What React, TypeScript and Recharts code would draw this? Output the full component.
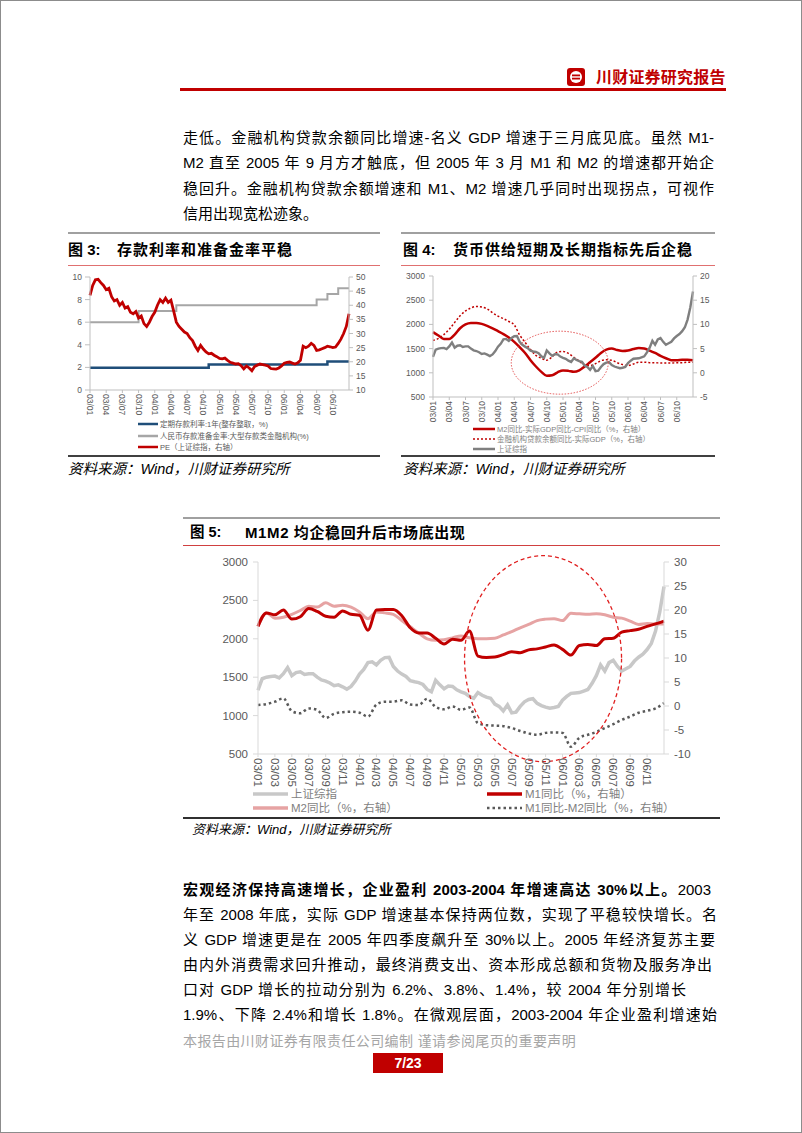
import React from 'react';
import { LineChart, Line, XAxis, YAxis, ReferenceDot } from 'recharts';

// x values are months counted from 2003/01; half-month steps for the daily-looking series
const quarterLabels = ['03/01', '03/04', '03/07', '03/10', '04/01', '04/04', '04/07', '04/10', '05/01', '05/04', '05/07', '05/10', '06/01', '06/04', '06/07', '06/10'];
const bimonthLabels = ['03/01', '03/03', '03/05', '03/07', '03/09', '03/11', '04/01', '04/03', '04/05', '04/07', '04/09', '04/11', '05/01', '05/03', '05/05', '05/07', '05/09', '05/11', '06/01', '06/03', '06/05', '06/07', '06/09', '06/11'];

// fig 3 (monthly)
const depositRate = [
  1.98, 1.98, 1.98, 1.98, 1.98, 1.98, 1.98, 1.98, 1.98, 1.98, 1.98, 1.98, 1.98, 1.98, 1.98, 1.98, 1.98, 1.98, 1.98, 1.98, 1.98, 1.98,
  2.25, 2.25, 2.25, 2.25, 2.25, 2.25, 2.25, 2.25, 2.25, 2.25, 2.25, 2.25, 2.25, 2.25, 2.25, 2.25, 2.25, 2.25, 2.25, 2.25, 2.25, 2.25,
  2.52, 2.52, 2.52, 2.52, 2.52,
];
const reserveRatio = [
  6, 6, 6, 6, 6, 6, 6, 6, 6,
  7, 7, 7, 7, 7, 7, 7,
  7.5, 7.5, 7.5, 7.5, 7.5, 7.5, 7.5, 7.5, 7.5, 7.5, 7.5, 7.5, 7.5, 7.5, 7.5, 7.5, 7.5, 7.5, 7.5, 7.5, 7.5, 7.5, 7.5, 7.5, 7.5, 7.5,
  8, 8, 8.5, 8.5, 9, 9, 9,
];
// fig 3 PE (half-month)
const pe = [
  43.5, 47, 49, 49.2, 48, 47, 45.5, 46, 43, 41.5,
  42, 40, 41, 39, 39.5, 37.5, 37, 37.8, 35.5, 36.2,
  33.5, 32.5, 34, 36, 37.5, 40, 42, 41, 42.5, 41,
  41.8, 38, 34, 32.5, 31.5, 30.5, 30, 28.5, 27.5, 25.5,
  24, 25.8, 24.5, 23.5, 22.8, 23, 22.3, 21.8, 21.2, 21,
  21.3, 20.5, 19.8, 19.5, 19.2, 19.3, 18.6, 17.5, 18.5, 17.8,
  16.8, 18.3, 18.8, 19.2, 19, 18.8, 18.5, 17.6, 17.5, 17.4,
  17.8, 18.5, 19.5, 19.8, 19.9, 19.5, 19.2, 19.6, 20.5, 25.5,
  25, 25.5, 26.5, 25.8, 24, 24.2, 24.6, 25, 25.5, 25.3,
  25, 25.2, 26.5, 28, 30, 32.5, 37,
];
// Shanghai composite (half-month), used in fig 4 and fig 5
const sse = [
  1330, 1480, 1500, 1510, 1515, 1490, 1545, 1625, 1520, 1560,
  1570, 1535, 1545, 1545, 1500, 1465, 1450, 1425, 1390, 1400,
  1375, 1345, 1380, 1450, 1540, 1600, 1690, 1700, 1660, 1720,
  1755, 1760, 1640, 1580, 1540, 1510, 1455, 1440, 1430, 1405,
  1340, 1310, 1460, 1400, 1350, 1385, 1380, 1335, 1310, 1290,
  1250, 1225, 1300, 1265, 1240, 1225, 1150, 1120, 1060, 1140,
  1035, 1045, 1120, 1180, 1210, 1220, 1160, 1130, 1110, 1095,
  1105, 1120, 1200, 1250, 1290, 1295, 1300, 1320, 1340, 1420,
  1520, 1660, 1580, 1690, 1720, 1640, 1580, 1610, 1640, 1710,
  1760, 1800, 1860, 1940, 2100, 2350, 2680,
];
// fig 4 (monthly, right axis)
const m2Gap = [8.4, 7.7, 7.0, 7.0, 7.9, 9.2, 10.0, 10.3, 10.3, 10.1, 9.7, 9.2, 8.6, 8.0, 7.3, 6.4, 5.3, 4.1, 2.6, 1.3, 0.2, -0.6, -0.5, 0.1, 0.5, 0.4, 0.2, 0.5, 1.3, 2.2, 3.1, 4.1, 4.8, 5.0, 4.7, 4.5, 4.6, 4.9, 5.1, 5.0, 4.6, 4.1, 3.5, 3.0, 2.6, 2.6, 2.7, 2.7, 2.6];
const loanGap = [6.7, 7.1, 7.9, 9.0, 10.4, 11.8, 12.8, 13.4, 13.7, 13.6, 13.2, 12.4, 11.7, 11.2, 10.6, 9.9, 7.8, 6.3, 4.8, 3.6, 3.0, 2.6, 3.3, 4.3, 4.4, 4.0, 3.2, 2.4, 1.6, 1.5, 1.9, 2.5, 2.7, 2.6, 2.1, 1.7, 1.5, 1.8, 2.2, 2.2, 2.1, 2.1, 2.0, 2.0, 2.0, 2.1, 2.1, 2.2, 2.2];
// fig 5 (monthly, right axis)
const m1 = [16.6, 19.4, 19.0, 20.0, 18.1, 18.6, 20.3, 19.7, 18.7, 18.5, 19.8, 19.1, 18.9, 15.8, 20.0, 20.1, 20.1, 18.8, 16.3, 15.2, 15.2, 14.1, 12.9, 13.9, 13.7, 15.6, 10.4, 10.1, 10.2, 10.7, 11.3, 11.1, 11.7, 11.9, 12.3, 12.7, 11.8, 10.6, 12.6, 12.8, 12.6, 14.0, 14.1, 15.4, 15.7, 16.0, 16.6, 17.1, 17.7];
const m2 = [16.6, 19.4, 18.3, 18.5, 19.1, 19.9, 20.8, 20.6, 21.5, 20.8, 21.0, 20.6, 19.6, 18.2, 19.6, 19.4, 19.1, 17.8, 16.5, 15.2, 14.0, 13.7, 13.8, 14.2, 14.6, 14.2, 14.0, 14.0, 14.1, 14.8, 15.5, 16.3, 17.0, 17.8, 18.1, 18.2, 17.8, 19.3, 19.2, 19.1, 19.2, 19.0, 18.5, 18.3, 17.7, 17.0, 17.2, 17.1, 17.1];
const m1m2 = [0.2, 0.4, 0.9, 1.6, -1.1, -1.5, -0.5, -0.8, -2.5, -1.6, -1.3, -1.2, -1.4, -2.2, 0.3, 0.9, 0.9, 1.2, 0.3, 0.2, 1.5, -0.2, -0.7, -0.1, -0.8, -0.3, -3.6, -4.0, -4.1, -4.2, -4.6, -5.2, -5.7, -6.0, -5.6, -5.5, -5.6, -8.5, -6.6, -6.0, -5.4, -4.6, -3.8, -2.9, -2.2, -1.4, -1.0, -0.5, 0.6];

const monthly = (arr: number[]) => arr.map((v, i) => ({ m: i, v }));
const halfMonthly = (arr: number[]) => arr.map((v, i) => ({ m: i / 2, v }));

const quarterTicks = quarterLabels.map((_, i) => i * 3);
const bimonthTicks = bimonthLabels.map((_, i) => i * 2);

const LAT = '"Liberation Sans", Arial, "Noto Sans CJK SC", sans-serif';
const RED = '#C00000';

const RotTick = (props: any) => {
  const { x, y, payload, labels, step, size, dir } = props;
  const label = labels[Math.round(payload.value / step)];
  return (
    <g transform={`translate(${x},${y})`}>
      <text
        transform={`rotate(${dir})`}
        textAnchor={dir > 0 ? 'start' : 'end'}
        dominantBaseline="central"
        fontSize={size}
        fill="#595959"
        fontFamily={LAT}
      >
        {label}
      </text>
    </g>
  );
};

const Txt = ({ x, cy, size, children, style }: any) => {
  const lh = Math.round(size * 1.4);
  return (
    <div style={{ position: 'absolute', left: x, top: cy - lh / 2, fontSize: size, lineHeight: `${lh}px`, whiteSpace: 'nowrap', ...style }}>
      {children}
    </div>
  );
};

const JLine = ({ x, cy, w, children, last }: any) => (
  <div
    style={{
      position: 'absolute', left: x, top: cy - 12, width: w, height: 24, fontSize: 15, lineHeight: '24px',
      textAlign: 'justify', textAlignLast: last ? 'left' : 'justify', color: '#000',
    }}
  >
    {children}
  </div>
);

const Swatch = ({ w, color, sw, dash }: any) => (
  <svg width={w} height={8} style={{ display: 'block' }}>
    <line x1={0} y1={4} x2={w} y2={4} stroke={color} strokeWidth={sw} strokeDasharray={dash} />
  </svg>
);

const LegendRow = ({ x, cy, w, tx, size, color, sw, dash, label, textColor }: any) => (
  <>
    <div style={{ position: 'absolute', left: x, top: cy - 4 }}>
      <Swatch w={w} color={color} sw={sw} dash={dash} />
    </div>
    <Txt x={tx} cy={cy} size={size} style={{ color: textColor }}>{label}</Txt>
  </>
);

const HLine = ({ x, y, w, h, color }: any) => (
  <div style={{ position: 'absolute', left: x, top: y - h / 2, width: w, height: h, background: color }} />
);

const Fig3 = () => (
  <div style={{ position: 'absolute', left: 60, top: 270 }}>
    <LineChart width={320} height={150} margin={{ top: 7, right: 0, bottom: 0, left: 0 }}>
      <XAxis
        type="number" dataKey="m" domain={[0, 48]} ticks={quarterTicks} interval={0} height={30}
        axisLine={{ stroke: '#BFBFBF' }} tickLine={{ stroke: '#BFBFBF' }} tickSize={3} tickMargin={1}
        tick={(p: any) => <RotTick {...p} labels={quarterLabels} step={3} size={8.5} dir={90} />}
      />
      <YAxis
        yAxisId="l" domain={[0, 10]} ticks={[0, 2, 4, 6, 8, 10]} width={30} interval={0}
        axisLine={{ stroke: '#BFBFBF' }} tickLine={{ stroke: '#BFBFBF' }} tickSize={5} tickMargin={3}
        tick={{ fontSize: 8.5, fill: '#595959', fontFamily: LAT }}
      />
      <YAxis
        yAxisId="r" orientation="right" domain={[10, 50]} ticks={[10, 15, 20, 25, 30, 35, 40, 45, 50]} width={31} interval={0}
        axisLine={{ stroke: '#BFBFBF' }} tickLine={{ stroke: '#BFBFBF' }} tickSize={4} tickMargin={3}
        tick={{ fontSize: 8.5, fill: '#595959', fontFamily: LAT }}
      />
      <Line yAxisId="l" data={monthly(depositRate)} dataKey="v" type="stepAfter" stroke="#1F4E79" strokeWidth={2.5} dot={false} isAnimationActive={false} />
      <Line yAxisId="l" data={monthly(reserveRatio)} dataKey="v" type="stepAfter" stroke="#A6A6A6" strokeWidth={2} dot={false} isAnimationActive={false} />
      <Line yAxisId="r" data={halfMonthly(pe)} dataKey="v" type="linear" stroke={RED} strokeWidth={2.8} dot={false} isAnimationActive={false} />
    </LineChart>
  </div>
);

const Fig4 = () => (
  <div style={{ position: 'absolute', left: 400, top: 268 }}>
    <LineChart width={320} height={159} margin={{ top: 8, right: 0, bottom: 0, left: 0 }}>
      <XAxis
        type="number" dataKey="m" domain={[0, 48]} ticks={quarterTicks} interval={0} height={30}
        axisLine={{ stroke: '#BFBFBF' }} tickLine={{ stroke: '#BFBFBF' }} tickSize={3} tickMargin={1}
        tick={(p: any) => <RotTick {...p} labels={quarterLabels} step={3} size={8.5} dir={-90} />}
      />
      <YAxis
        yAxisId="l" domain={[500, 3000]} ticks={[500, 1000, 1500, 2000, 2500, 3000]} width={33} interval={0}
        axisLine={{ stroke: '#BFBFBF' }} tickLine={{ stroke: '#BFBFBF' }} tickSize={4} tickMargin={4}
        tick={{ fontSize: 8.5, fill: '#595959', fontFamily: LAT }}
      />
      <YAxis
        yAxisId="r" orientation="right" domain={[-5, 20]} ticks={[-5, 0, 5, 10, 15, 20]} width={27} interval={0}
        axisLine={{ stroke: '#BFBFBF' }} tickLine={{ stroke: '#BFBFBF' }} tickSize={4} tickMargin={3}
        tick={{ fontSize: 8.5, fill: '#595959', fontFamily: LAT }}
      />
      <Line yAxisId="r" data={monthly(m2Gap)} dataKey="v" type="monotone" stroke={RED} strokeWidth={2.5} dot={false} isAnimationActive={false} />
      <Line yAxisId="r" data={monthly(loanGap)} dataKey="v" type="monotone" stroke={RED} strokeWidth={1.5} strokeDasharray="2 2" dot={false} isAnimationActive={false} />
      <Line yAxisId="l" data={halfMonthly(sse)} dataKey="v" type="linear" stroke="#7F7F7F" strokeWidth={2.4} dot={false} isAnimationActive={false} />
      <ReferenceDot
        yAxisId="l" x={23.4} y={1209} ifOverflow="visible"
        shape={(p: any) => <ellipse cx={p.cx} cy={p.cy} rx={48.5} ry={31.5} fill="none" stroke="#E04040" strokeWidth={0.9} strokeDasharray="1.5 1.5" />}
      />
    </LineChart>
  </div>
);

const Fig5 = () => (
  <div style={{ position: 'absolute', left: 200, top: 552 }}>
    <LineChart width={504} height={238} margin={{ top: 10, right: 0, bottom: 0, left: 0 }}>
      <XAxis
        type="number" dataKey="m" domain={[0, 48]} ticks={bimonthTicks} interval={0} height={36}
        axisLine={{ stroke: '#D9D9D9' }} tickLine={{ stroke: '#D9D9D9' }} tickSize={3} tickMargin={1}
        tick={(p: any) => <RotTick {...p} labels={bimonthLabels} step={2} size={11.5} dir={90} />}
      />
      <YAxis
        yAxisId="l" domain={[500, 3000]} ticks={[500, 1000, 1500, 2000, 2500, 3000]} width={58} interval={0}
        axisLine={{ stroke: '#D9D9D9' }} tickLine={{ stroke: '#D9D9D9' }} tickSize={5} tickMargin={5}
        tick={{ fontSize: 11.5, fill: '#595959', fontFamily: LAT }}
      />
      <YAxis
        yAxisId="r" orientation="right" domain={[-10, 30]} ticks={[-10, -5, 0, 5, 10, 15, 20, 25, 30]} width={40} interval={0}
        axisLine={{ stroke: '#D9D9D9' }} tickLine={{ stroke: '#D9D9D9' }} tickSize={5} tickMargin={5}
        tick={{ fontSize: 11.5, fill: '#595959', fontFamily: LAT }}
      />
      <Line yAxisId="l" data={halfMonthly(sse)} dataKey="v" type="linear" stroke="#C8C8C8" strokeWidth={3.5} dot={false} isAnimationActive={false} />
      <Line yAxisId="r" data={monthly(m1m2)} dataKey="v" type="monotone" stroke="#595959" strokeWidth={2.5} strokeDasharray="2.5 3" dot={false} isAnimationActive={false} />
      <Line yAxisId="r" data={monthly(m2)} dataKey="v" type="monotone" stroke="#E6A3A3" strokeWidth={3} dot={false} isAnimationActive={false} />
      <Line yAxisId="r" data={monthly(m1)} dataKey="v" type="monotone" stroke={RED} strokeWidth={3} dot={false} isAnimationActive={false} />
      <ReferenceDot
        yAxisId="l" x={33.7} y={1741} ifOverflow="visible"
        shape={(p: any) => <ellipse cx={p.cx} cy={p.cy} rx={78.5} ry={103} fill="none" stroke="#E02020" strokeWidth={1.3} strokeDasharray="4 3" />}
      />
    </LineChart>
  </div>
);

export default function App() {
  return (
    <div style={{ position: 'absolute', left: 0, top: 0, width: 802, height: 1133, background: '#fff', fontFamily: LAT, color: '#000', overflow: 'hidden' }}>
      {/* header */}
      <svg width={18} height={18} style={{ position: 'absolute', left: 567, top: 68 }}>
        <rect x={0} y={0} width={18} height={18} rx={3} fill={RED} />
        <circle cx={9} cy={9} r={6} fill="#fff" />
        <rect x={5} y={6.5} width={8} height={1.8} fill={RED} />
        <rect x={5} y={9.7} width={8} height={1.8} fill={RED} />
      </svg>
      <Txt x={596} cy={78} size={16} style={{ color: RED, fontWeight: 700, letterSpacing: 0.2 }}>川财证券研究报告</Txt>
      <HLine x={180} y={89.5} w={546} h={3} color={RED} />

      {/* top paragraph */}
      <JLine x={183} cy={137.5} w={531}>走低。金融机构贷款余额同比增速-名义 GDP 增速于三月底见底。虽然 M1-</JLine>
      <JLine x={183} cy={163} w={531}>M2 直至 2005 年 9 月方才触底，但 2005 年 3 月 M1 和 M2 的增速都开始企</JLine>
      <JLine x={183} cy={188.5} w={531}>稳回升。金融机构贷款余额增速和 M1、M2 增速几乎同时出现拐点，可视作</JLine>
      <JLine x={183} cy={213.5} w={531} last>信用出现宽松迹象。</JLine>

      {/* fig 3 frame */}
      <HLine x={68} y={233} w={312} h={1.5} color="#A0A0A0" />
      <Txt x={68} cy={249} size={15} style={{ fontWeight: 700 }}>图 3:</Txt>
      <Txt x={117} cy={249} size={15} style={{ fontWeight: 700, letterSpacing: 1 }}>存款利率和准备金率平稳</Txt>
      <HLine x={68} y={265} w={312} h={1} color="#E07070" />
      <Fig3 />
      <LegendRow x={138} cy={424} w={20} tx={160} size={7.5} color="#1F4E79" sw={2.5} label="定期存款利率:1年(整存整取，%)" textColor="#595959" />
      <LegendRow x={138} cy={436} w={20} tx={160} size={7.5} color="#A6A6A6" sw={2.5} label="人民币存款准备金率:大型存款类金融机构(%)" textColor="#595959" />
      <LegendRow x={138} cy={447} w={20} tx={160} size={7.5} color={RED} sw={2.5} label="PE（上证综指，右轴）" textColor="#595959" />
      <HLine x={68} y={456} w={312} h={2} color="#404040" />
      <Txt x={68} cy={469} size={14.5} style={{ fontStyle: 'italic' }}>资料来源：Wind，川财证券研究所</Txt>

      {/* fig 4 frame */}
      <HLine x={401} y={233} w={314} h={1.5} color="#A0A0A0" />
      <Txt x={403} cy={249} size={15} style={{ fontWeight: 700 }}>图 4:</Txt>
      <Txt x={453} cy={249} size={15} style={{ fontWeight: 700, letterSpacing: 1 }}>货币供给短期及长期指标先后企稳</Txt>
      <HLine x={401} y={265} w={314} h={1} color="#E07070" />
      <Fig4 />
      <LegendRow x={473} cy={429} w={22} tx={497} size={7.5} color={RED} sw={2.5} label="M2同比-实际GDP同比-CPI同比（%，右轴）" textColor="#7F7F7F" />
      <LegendRow x={473} cy={439} w={22} tx={497} size={7.5} color={RED} sw={1.5} dash="2 2" label="金融机构贷款余额同比-实际GDP（%，右轴）" textColor="#7F7F7F" />
      <LegendRow x={473} cy={449} w={22} tx={497} size={7.5} color="#7F7F7F" sw={2.5} label="上证综指" textColor="#7F7F7F" />
      <HLine x={401} y={456} w={314} h={2} color="#404040" />
      <Txt x={403} cy={469} size={14.5} style={{ fontStyle: 'italic' }}>资料来源：Wind，川财证券研究所</Txt>

      {/* fig 5 frame */}
      <HLine x={183} y={518} w={537} h={1.5} color="#A0A0A0" />
      <Txt x={190} cy={532} size={14.5} style={{ fontWeight: 700 }}>图 5:</Txt>
      <Txt x={245} cy={532} size={15} style={{ fontWeight: 700, letterSpacing: 0.6 }}>M1M2 均企稳回升后市场底出现</Txt>
      <HLine x={183} y={545} w={537} h={1} color="#D04040" />
      <Fig5 />
      <LegendRow x={253} cy={794} w={35} tx={291} size={11.5} color="#C8C8C8" sw={3.5} label="上证综指" textColor="#7F7F7F" />
      <LegendRow x={487} cy={794} w={35} tx={525} size={11.5} color={RED} sw={3.5} label="M1同比（%，右轴）" textColor="#7F7F7F" />
      <LegendRow x={253} cy={808} w={35} tx={291} size={11.5} color="#E6A3A3" sw={3.5} label="M2同比（%，右轴）" textColor="#7F7F7F" />
      <LegendRow x={487} cy={808} w={35} tx={525} size={11.5} color="#595959" sw={2.5} dash="2.5 3" label="M1同比-M2同比（%，右轴）" textColor="#7F7F7F" />
      <HLine x={183} y={818} w={537} h={2} color="#303030" />
      <Txt x={192} cy={830} size={13} style={{ fontStyle: 'italic' }}>资料来源：Wind，川财证券研究所</Txt>

      {/* bottom paragraph */}
      <JLine x={183} cy={890} w={528}><b>宏观经济保持高速增长，企业盈利 2003-2004 年增速高达 30%以上。</b>2003</JLine>
      <JLine x={183} cy={915} w={534}>年至 2008 年底，实际 GDP 增速基本保持两位数，实现了平稳较快增长。名</JLine>
      <JLine x={183} cy={940} w={532}>义 GDP 增速更是在 2005 年四季度飙升至 30%以上。2005 年经济复苏主要</JLine>
      <JLine x={183} cy={965} w={529}>由内外消费需求回升推动，最终消费支出、资本形成总额和货物及服务净出</JLine>
      <JLine x={183} cy={990} w={503}>口对 GDP 增长的拉动分别为 6.2%、3.8%、1.4%，较 2004 年分别增长</JLine>
      <JLine x={183} cy={1015} w={534}>1.9%、下降 2.4%和增长 1.8%。在微观层面，2003-2004 年企业盈利增速始</JLine>

      {/* footer */}
      <Txt x={183} cy={1041} size={14} style={{ color: '#A6A6A6', letterSpacing: 0.4 }}>本报告由川财证券有限责任公司编制 谨请参阅尾页的重要声明</Txt>
      <div style={{ position: 'absolute', left: 373, top: 1053, width: 70, height: 20, background: RED, color: '#fff', fontWeight: 700, fontSize: 14, lineHeight: '20px', textAlign: 'center' }}>
        7/23
      </div>

      {/* page frame */}
      <div style={{ position: 'absolute', left: 0, top: 0, width: 802, height: 1133, boxSizing: 'border-box', border: '1px solid #8C8C8C', pointerEvents: 'none' }} />
    </div>
  );
}
